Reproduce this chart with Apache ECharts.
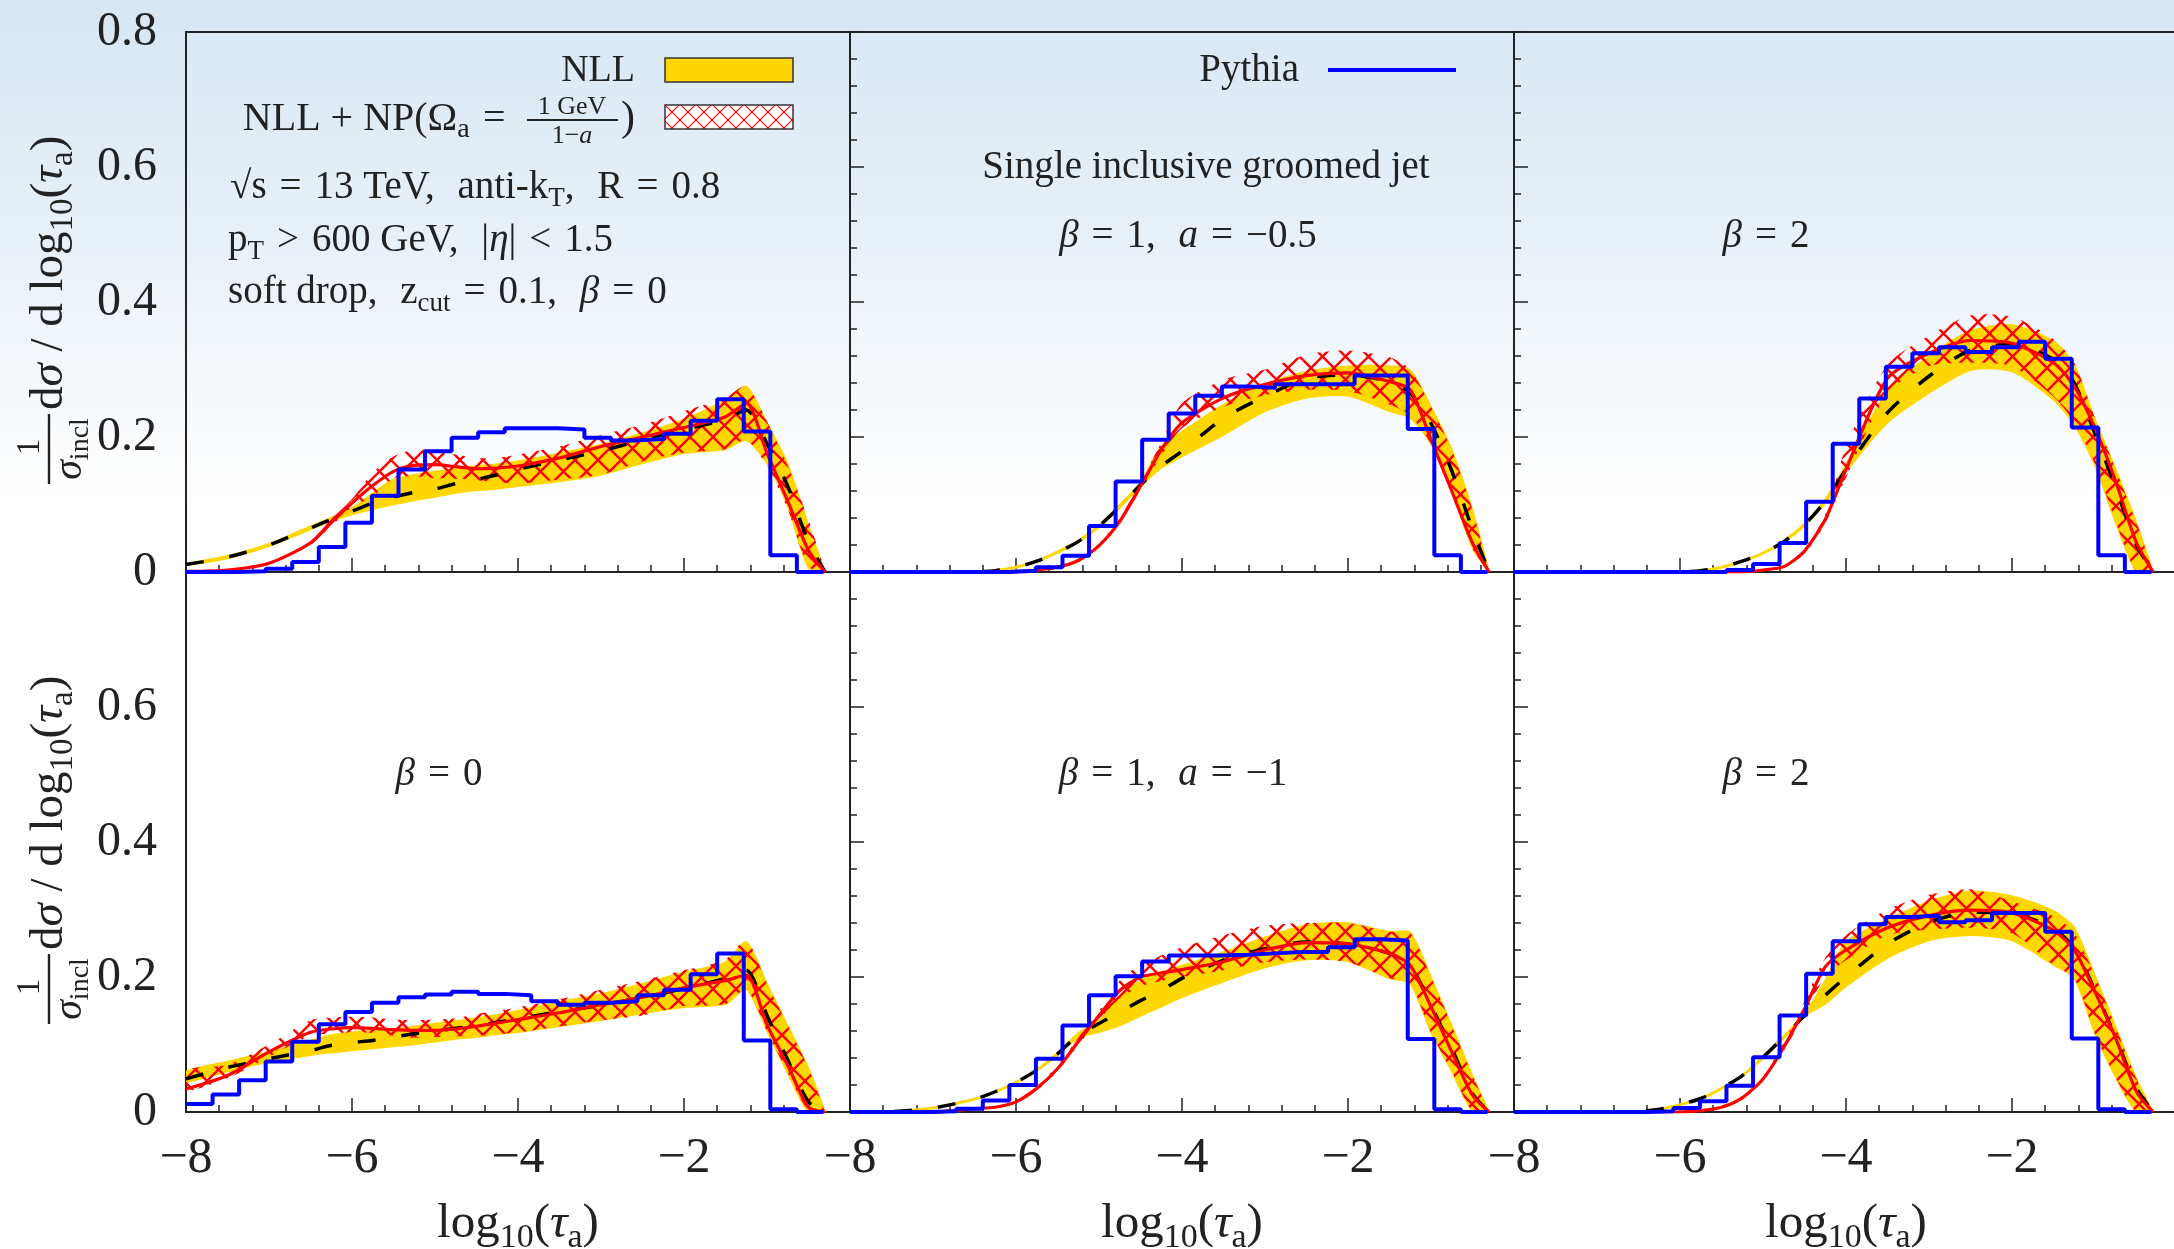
<!DOCTYPE html>
<html>
<head>
<meta charset="utf-8">
<script src="https://cdn.jsdelivr.net/npm/echarts@6/dist/echarts.min.js"></script>
<style>
  html, body { margin: 0; padding: 0; background: #fff; }
  #chart { width: 2174px; height: 1249px; }
</style>
</head>
<body>
<div id="chart"></div>
<script>
// ---------------------------------------------------------------------------
// Sample points in log10(tau_a) for the resummed curves
// ---------------------------------------------------------------------------
const X = [-8, -7.5, -7, -6.5, -6.25, -6, -5.75, -5.5, -5.25, -5, -4.75, -4.5,
           -4.25, -4, -3.5, -3, -2.5, -2, -1.5, -1.25, -1, -0.75, -0.5, -0.3];

// Pythia histogram bin edges
const BIN_EDGES = [-8, -7.68, -7.36, -7.04, -6.72, -6.4, -6.08, -5.76, -5.44, -5.12,
                   -4.8, -4.48, -4.16, -3.84, -3.52, -3.2, -2.88, -2.56, -2.24, -1.92,
                   -1.6, -1.28, -0.96, -0.64, -0.32];

// Axis tick labels
const X_TICKS = [-8, -6, -4, -2, 0];
const Y_TICKS = [0, 0.2, 0.4, 0.6, 0.8];

// ---- top row, beta = 0 ----------------------------------------------------
const T0_NLL_LO = [0.010, 0.020, 0.038, 0.063, 0.075, 0.085, 0.093, 0.100, 0.106, 0.111, 0.117, 0.121, 0.123, 0.127, 0.134, 0.144, 0.161, 0.176, 0.182, 0.195, 0.161, 0.097, 0.006, 0];
const T0_NLL_HI = [0.012, 0.024, 0.042, 0.068, 0.081, 0.095, 0.117, 0.137, 0.144, 0.149, 0.153, 0.157, 0.160, 0.164, 0.176, 0.189, 0.206, 0.226, 0.255, 0.275, 0.221, 0.160, 0.069, 0];
const T0_NLL    = [0.011, 0.022, 0.040, 0.065, 0.078, 0.090, 0.102, 0.111, 0.118, 0.123, 0.131, 0.137, 0.144, 0.152, 0.166, 0.179, 0.196, 0.211, 0.226, 0.240, 0.190, 0.127, 0.044, 0];
const T0_NP_LO  = [0.000, 0.002, 0.011, 0.040, 0.068, 0.096, 0.112, 0.139, 0.142, 0.139, 0.138, 0.136, 0.133, 0.131, 0.137, 0.144, 0.164, 0.177, 0.182, 0.196, 0.157, 0.093, 0.008, 0];
const T0_NP_HI  = [0.002, 0.004, 0.015, 0.046, 0.078, 0.108, 0.147, 0.171, 0.181, 0.180, 0.174, 0.169, 0.169, 0.174, 0.186, 0.203, 0.218, 0.238, 0.258, 0.276, 0.223, 0.157, 0.078, 0];
const T0_NP     = [0.001, 0.003, 0.013, 0.043, 0.073, 0.102, 0.128, 0.149, 0.158, 0.159, 0.156, 0.153, 0.154, 0.157, 0.169, 0.186, 0.200, 0.214, 0.230, 0.250, 0.176, 0.105, 0.032, 0];
const T0_PYTHIA = [0, 0, 0.001, 0.005, 0.015, 0.037, 0.073, 0.113, 0.152, 0.179, 0.199, 0.207, 0.213, 0.213, 0.211, 0.199, 0.195, 0.197, 0.205, 0.224, 0.256, 0.208, 0.025, 0];

// ---- top row, beta = 1, a = -0.5 -----------------------------------------
const T1_NLL_LO = [0, 0, 0, 0, 0.001, 0.006, 0.015, 0.028, 0.044, 0.066, 0.095, 0.127, 0.154, 0.171, 0.203, 0.238, 0.258, 0.261, 0.238, 0.228, 0.190, 0.120, 0.035, 0];
const T1_NLL_HI = [0, 0, 0.0005, 0.001, 0.003, 0.008, 0.017, 0.031, 0.047, 0.070, 0.100, 0.133, 0.186, 0.208, 0.248, 0.278, 0.297, 0.305, 0.305, 0.299, 0.245, 0.181, 0.092, 0];
const T1_NLL    = [0, 0, 0, 0.0005, 0.002, 0.007, 0.016, 0.029, 0.045, 0.068, 0.097, 0.129, 0.157, 0.179, 0.228, 0.260, 0.287, 0.292, 0.282, 0.265, 0.220, 0.150, 0.063, 0];
const T1_NP_LO  = [0, 0, 0, 0, 0, 0, 0.002, 0.006, 0.015, 0.036, 0.071, 0.122, 0.172, 0.213, 0.245, 0.262, 0.270, 0.268, 0.248, 0.232, 0.190, 0.120, 0.035, 0];
const T1_NP_HI  = [0, 0, 0, 0, 0, 0.001, 0.004, 0.009, 0.019, 0.042, 0.080, 0.133, 0.192, 0.250, 0.285, 0.300, 0.322, 0.328, 0.318, 0.300, 0.245, 0.181, 0.092, 0];
const T1_NP     = [0, 0, 0, 0, 0, 0.0005, 0.003, 0.007, 0.017, 0.039, 0.075, 0.127, 0.181, 0.221, 0.258, 0.278, 0.291, 0.295, 0.282, 0.270, 0.196, 0.120, 0.043, 0];
const T1_PYTHIA = [0, 0, 0, 0, 0, 0, 0.002, 0.007, 0.024, 0.068, 0.134, 0.196, 0.235, 0.261, 0.275, 0.273, 0.278, 0.278, 0.278, 0.291, 0.291, 0.212, 0.025, 0];

// ---- top row, beta = 2 ----------------------------------------------------
const T2_NLL_LO = [0, 0, 0, 0, 0, 0, 0.0015, 0.006, 0.015, 0.027, 0.044, 0.068, 0.102, 0.148, 0.221, 0.265, 0.299, 0.297, 0.255, 0.218, 0.157, 0.073, 0, 0];
const T2_NLL_HI = [0, 0, 0, 0, 0, 0, 0.0025, 0.008, 0.017, 0.029, 0.047, 0.072, 0.108, 0.160, 0.268, 0.320, 0.357, 0.366, 0.342, 0.307, 0.226, 0.152, 0.073, 0];
const T2_NLL    = [0, 0, 0, 0, 0, 0, 0.002, 0.007, 0.016, 0.028, 0.045, 0.070, 0.105, 0.152, 0.236, 0.290, 0.329, 0.337, 0.315, 0.280, 0.205, 0.125, 0.040, 0];
const T2_NP_LO  = [0, 0, 0, 0, 0, 0, 0, 0, 0, 0.002, 0.006, 0.027, 0.072, 0.140, 0.265, 0.305, 0.310, 0.305, 0.260, 0.222, 0.160, 0.075, 0, 0];
const T2_NP_HI  = [0, 0, 0, 0, 0, 0, 0, 0, 0.001, 0.004, 0.010, 0.035, 0.085, 0.185, 0.307, 0.350, 0.380, 0.378, 0.345, 0.310, 0.228, 0.152, 0.073, 0];
const T2_NP     = [0, 0, 0, 0, 0, 0, 0, 0, 0, 0.003, 0.008, 0.031, 0.078, 0.152, 0.287, 0.324, 0.343, 0.339, 0.310, 0.275, 0.213, 0.134, 0.043, 0];
const T2_PYTHIA = [0, 0, 0, 0, 0, 0, 0, 0, 0.003, 0.012, 0.043, 0.104, 0.190, 0.257, 0.304, 0.324, 0.333, 0.326, 0.333, 0.341, 0.316, 0.214, 0.025, 0];

// ---- bottom row, beta = 0 -------------------------------------------------
const B0_NLL_LO = [0.045, 0.060, 0.074, 0.084, 0.088, 0.091, 0.094, 0.097, 0.100, 0.104, 0.108, 0.111, 0.115, 0.118, 0.127, 0.136, 0.146, 0.155, 0.160, 0.182, 0.120, 0.057, 0, 0];
const B0_NLL_HI = [0.060, 0.075, 0.089, 0.106, 0.114, 0.118, 0.121, 0.123, 0.127, 0.131, 0.135, 0.139, 0.144, 0.150, 0.163, 0.175, 0.190, 0.207, 0.222, 0.252, 0.190, 0.128, 0.065, 0];
const B0_NLL    = [0.049, 0.066, 0.079, 0.091, 0.099, 0.103, 0.106, 0.111, 0.116, 0.120, 0.124, 0.128, 0.133, 0.138, 0.149, 0.158, 0.170, 0.183, 0.198, 0.210, 0.143, 0.077, 0.015, 0];
const B0_NP_LO  = [0.032, 0.050, 0.082, 0.113, 0.116, 0.118, 0.117, 0.113, 0.110, 0.111, 0.112, 0.113, 0.115, 0.118, 0.127, 0.136, 0.143, 0.157, 0.160, 0.182, 0.120, 0.058, 0.002, 0];
const B0_NP_HI  = [0.062, 0.070, 0.100, 0.136, 0.140, 0.141, 0.140, 0.137, 0.136, 0.137, 0.139, 0.145, 0.150, 0.155, 0.167, 0.181, 0.195, 0.210, 0.226, 0.255, 0.190, 0.128, 0.065, 0];
const B0_NP     = [0.034, 0.054, 0.089, 0.118, 0.123, 0.125, 0.124, 0.122, 0.121, 0.121, 0.123, 0.127, 0.132, 0.137, 0.147, 0.159, 0.170, 0.184, 0.195, 0.203, 0.129, 0.069, 0.007, 0];
const B0_PYTHIA = [0.012, 0.026, 0.047, 0.075, 0.104, 0.130, 0.148, 0.162, 0.170, 0.174, 0.178, 0.175, 0.173, 0.164, 0.159, 0.162, 0.164, 0.173, 0.181, 0.204, 0.235, 0.106, 0.004, 0];

// ---- bottom row, beta = 1, a = -1 -----------------------------------------
const B1_NLL_LO = [0, 0, 0.005, 0.018, 0.029, 0.043, 0.061, 0.084, 0.110, 0.118, 0.128, 0.142, 0.156, 0.170, 0.193, 0.214, 0.226, 0.223, 0.198, 0.190, 0.118, 0.060, 0.001, 0];
const B1_NLL_HI = [0, 0.001, 0.007, 0.020, 0.031, 0.045, 0.063, 0.088, 0.117, 0.135, 0.170, 0.195, 0.207, 0.217, 0.237, 0.259, 0.277, 0.280, 0.267, 0.266, 0.200, 0.128, 0.054, 0];
const B1_NLL    = [0, 0.0005, 0.006, 0.019, 0.030, 0.044, 0.062, 0.086, 0.114, 0.131, 0.148, 0.165, 0.180, 0.198, 0.225, 0.242, 0.252, 0.249, 0.235, 0.217, 0.158, 0.094, 0.027, 0];
const B1_NP_LO  = [0, 0, 0, 0.004, 0.006, 0.013, 0.032, 0.060, 0.099, 0.136, 0.168, 0.186, 0.194, 0.200, 0.210, 0.222, 0.226, 0.222, 0.198, 0.190, 0.118, 0.060, 0.001, 0];
const B1_NP_HI  = [0, 0, 0, 0.006, 0.009, 0.017, 0.038, 0.069, 0.110, 0.150, 0.195, 0.218, 0.232, 0.244, 0.262, 0.276, 0.280, 0.280, 0.267, 0.266, 0.200, 0.128, 0.054, 0];
const B1_NP     = [0, 0, 0, 0.005, 0.007, 0.015, 0.035, 0.064, 0.104, 0.143, 0.180, 0.200, 0.206, 0.211, 0.223, 0.240, 0.251, 0.249, 0.235, 0.217, 0.156, 0.089, 0.025, 0];
const B1_PYTHIA = [0, 0, 0, 0.001, 0.005, 0.017, 0.040, 0.079, 0.128, 0.173, 0.201, 0.223, 0.232, 0.232, 0.233, 0.235, 0.237, 0.237, 0.244, 0.256, 0.254, 0.108, 0.004, 0];

// ---- bottom row, beta = 2 -------------------------------------------------
const B2_NLL_LO = [0, 0, 0, 0, 0.003, 0.010, 0.019, 0.034, 0.053, 0.079, 0.109, 0.142, 0.160, 0.186, 0.228, 0.254, 0.262, 0.254, 0.218, 0.198, 0.116, 0.051, 0, 0];
const B2_NLL_HI = [0, 0, 0, 0.001, 0.005, 0.012, 0.021, 0.036, 0.055, 0.083, 0.113, 0.146, 0.195, 0.252, 0.285, 0.312, 0.327, 0.320, 0.298, 0.273, 0.202, 0.126, 0.049, 0];
const B2_NLL    = [0, 0, 0, 0.001, 0.004, 0.011, 0.020, 0.035, 0.054, 0.081, 0.111, 0.143, 0.173, 0.200, 0.249, 0.281, 0.296, 0.294, 0.272, 0.242, 0.180, 0.110, 0.035, 0];
const B2_NP_LO  = [0, 0, 0, 0, 0, 0, 0.001, 0.006, 0.019, 0.046, 0.091, 0.145, 0.200, 0.225, 0.262, 0.270, 0.273, 0.265, 0.218, 0.198, 0.116, 0.051, 0, 0];
const B2_NP_HI  = [0, 0, 0, 0, 0, 0, 0.003, 0.009, 0.024, 0.053, 0.103, 0.165, 0.228, 0.262, 0.300, 0.322, 0.330, 0.312, 0.290, 0.265, 0.202, 0.126, 0.049, 0];
const B2_NP     = [0, 0, 0, 0, 0, 0, 0.002, 0.007, 0.021, 0.049, 0.096, 0.153, 0.215, 0.240, 0.273, 0.291, 0.299, 0.295, 0.269, 0.240, 0.178, 0.109, 0.030, 0];
const B2_PYTHIA = [0, 0, 0, 0, 0, 0.001, 0.006, 0.016, 0.039, 0.081, 0.143, 0.205, 0.253, 0.278, 0.289, 0.291, 0.281, 0.284, 0.295, 0.295, 0.267, 0.109, 0.004, 0];

// Panel list (row, column) -> curves
const PANELS = [
  { row: 0, col: 0, nllLo: T0_NLL_LO, nllHi: T0_NLL_HI, nll: T0_NLL, npLo: T0_NP_LO, npHi: T0_NP_HI, np: T0_NP, pythia: T0_PYTHIA },
  { row: 0, col: 1, nllLo: T1_NLL_LO, nllHi: T1_NLL_HI, nll: T1_NLL, npLo: T1_NP_LO, npHi: T1_NP_HI, np: T1_NP, pythia: T1_PYTHIA },
  { row: 0, col: 2, nllLo: T2_NLL_LO, nllHi: T2_NLL_HI, nll: T2_NLL, npLo: T2_NP_LO, npHi: T2_NP_HI, np: T2_NP, pythia: T2_PYTHIA },
  { row: 1, col: 0, nllLo: B0_NLL_LO, nllHi: B0_NLL_HI, nll: B0_NLL, npLo: B0_NP_LO, npHi: B0_NP_HI, np: B0_NP, pythia: B0_PYTHIA },
  { row: 1, col: 1, nllLo: B1_NLL_LO, nllHi: B1_NLL_HI, nll: B1_NLL, npLo: B1_NP_LO, npHi: B1_NP_HI, np: B1_NP, pythia: B1_PYTHIA },
  { row: 1, col: 2, nllLo: B2_NLL_LO, nllHi: B2_NLL_HI, nll: B2_NLL, npLo: B2_NP_LO, npHi: B2_NP_HI, np: B2_NP, pythia: B2_PYTHIA }
];

// ---------------------------------------------------------------------------
// Layout and style
// ---------------------------------------------------------------------------
const FONT = 'Liberation Serif';
const INK = '#222';
const AXIS = '#222';
const YELLOW = '#ffd700';
const RED = '#ff0000';
const BLUE = '#0000ff';
const COL_LEFT = [186, 850, 1514];
const ROW_TOP = [32, 572];
const PANEL_W = 664;
const PANEL_H = 540;
const SMOOTH = 0.25;
const SP = '\u2004';   // three-per-em space used around relations

function hatchTile(size, width, color) {
  const c = document.createElement('canvas');
  c.width = size; c.height = size;
  const g = c.getContext('2d');
  g.strokeStyle = color;
  g.lineWidth = width;
  g.beginPath();
  g.moveTo(-2, -2); g.lineTo(size + 2, size + 2);
  g.moveTo(size + 2, -2); g.lineTo(-2, size + 2);
  g.stroke();
  return c;
}
const HATCH = { image: hatchTile(23, 2.4, RED), repeat: 'repeat' };
const HATCH_KEY = { image: hatchTile(16, 1.2, RED), repeat: 'repeat' };

// rich-text styles: n = upright, i = italic, s = subscript
function richSet(size) {
  const base = { fontFamily: FONT, fill: INK, color: INK };
  return {
    n: Object.assign({ fontSize: size, lineHeight: Math.round(size * 1.25) }, base),
    i: Object.assign({ fontSize: size, fontStyle: 'italic', lineHeight: Math.round(size * 1.25) }, base),
    s: Object.assign({ fontSize: Math.round(size * 0.7), lineHeight: Math.round(size * 0.5), verticalAlign: 'bottom' }, base)
  };
}

const fmtX = v => (v < 0 ? '\u2212' + Math.abs(v) : String(v));
const fmtY = v => (v === 0 ? '0' : v.toFixed(1));

// A shaded band between two curves, drawn as one closed polygon in data coordinates
function bandSeries(i, lo, hi, fill, stroke) {
  const rows = X.map((x, k) => [x, lo[k], hi[k]]);
  return {
    type: 'custom', xAxisIndex: i, yAxisIndex: i, silent: true, animation: false, clip: true,
    data: rows,
    encode: { x: 0, y: [1, 2] },
    renderItem: function (params, api) {
      if (params.dataIndex !== 0) return null;
      const upper = rows.map(r => api.coord([r[0], r[2]]));
      const lower = rows.map(r => api.coord([r[0], r[1]])).reverse();
      return {
        type: 'polygon',
        shape: { points: upper.concat(lower), smooth: 0.25 },
        style: { fill: fill, stroke: stroke || null, lineWidth: stroke ? 1.5 : 0 }
      };
    }
  };
}

const grids = [], xAxes = [], yAxes = [], series = [];
const pair = arr => X.map((x, k) => [x, arr[k]]);

PANELS.forEach((p, i) => {
  grids.push({
    left: COL_LEFT[p.col], top: ROW_TOP[p.row], width: PANEL_W, height: PANEL_H,
    show: true, borderColor: AXIS, borderWidth: 2, backgroundColor: 'transparent',
    containLabel: false, outerBoundsMode: 'none'
  });
  const bottomRow = p.row === 1;
  xAxes.push({
    type: 'value', gridIndex: i, min: X_TICKS[0], max: X_TICKS[X_TICKS.length - 1], interval: 2,
    axisLine: { show: true, onZero: false, lineStyle: { color: AXIS, width: 2 } },
    axisTick: { show: true, inside: true, length: 14, lineStyle: { color: AXIS, width: 1.5 } },
    minorTick: { show: true, splitNumber: 5, length: 7, lineStyle: { color: AXIS, width: 1.5 } },
    splitLine: { show: false }, minorSplitLine: { show: false },
    axisLabel: {
      show: bottomRow, showMinLabel: true, showMaxLabel: false, margin: 22,
      fontSize: 50, fontFamily: FONT, color: INK, formatter: fmtX
    },
    name: bottomRow ? '{n|log}{s|10}{n|(}{i|\u03c4}{s|a}{n|)}' : '',
    nameLocation: 'middle', nameGap: 82,
    nameTextStyle: { rich: richSet(49) }
  });
  yAxes.push({
    type: 'value', gridIndex: i, min: Y_TICKS[0], max: Y_TICKS[Y_TICKS.length - 1], interval: 0.2,
    axisLine: { show: true, lineStyle: { color: AXIS, width: 2 } },
    axisTick: { show: true, inside: true, length: 14, lineStyle: { color: AXIS, width: 1.5 } },
    minorTick: { show: true, splitNumber: 5, length: 7, lineStyle: { color: AXIS, width: 1.5 } },
    splitLine: { show: false }, minorSplitLine: { show: false },
    axisLabel: {
      show: p.col === 0, showMinLabel: true, showMaxLabel: p.row === 0, margin: 29,
      fontSize: 48, fontFamily: FONT, color: INK, formatter: fmtY
    }
  });

  const common = { xAxisIndex: i, yAxisIndex: i, symbol: 'none', showSymbol: false, silent: true, animation: false };
  // NLL band (solid yellow) and NLL + NP band (red cross-hatch)
  series.push(bandSeries(i, p.nllLo, p.nllHi, YELLOW, YELLOW));
  series.push(bandSeries(i, p.npLo, p.npHi, HATCH, null));
  // central curves
  series.push(Object.assign({ type: 'line', name: 'NLL', smooth: SMOOTH, data: pair(p.nll),
    lineStyle: { color: '#000', width: 3.5, type: [18, 26] } }, common));
  series.push(Object.assign({ type: 'line', name: 'NLL + NP', smooth: SMOOTH, data: pair(p.np),
    lineStyle: { color: RED, width: 3.2 } }, common));
  // Pythia histogram
  const hist = p.pythia.map((v, k) => [BIN_EDGES[k], v]);
  hist.push([BIN_EDGES[BIN_EDGES.length - 1], p.pythia[p.pythia.length - 1]]);
  series.push(Object.assign({ type: 'line', name: 'Pythia', step: 'end', data: hist,
    lineStyle: { color: BLUE, width: 4 } }, common));
});

// ---------------------------------------------------------------------------
// Text annotations, keys and the y-axis title
// ---------------------------------------------------------------------------
function label(x, y, text, align, size) {
  return {
    type: 'text', x: x, y: y, silent: true,
    style: { text: text, rich: richSet(size), align: align || 'left', verticalAlign: 'middle',
             fontFamily: FONT, fontSize: size, fill: INK }
  };
}
const rel = s => SP + s + SP;

function yTitle(bottom) {
  return {
    type: 'group', x: 0, y: bottom, rotation: Math.PI / 2, silent: true,
    children: [
      { type: 'text', x: 37, y: 30, style: { text: '1', fontSize: 33, fontFamily: FONT, fill: INK, align: 'center', verticalAlign: 'middle' } },
      { type: 'line', shape: { x1: 0, y1: 49, x2: 70, y2: 49 }, style: { stroke: INK, lineWidth: 2.4 } },
      { type: 'text', x: 35, y: 70, style: { text: '{i|\u03c3}{s|incl}', rich: richSet(40), align: 'center', verticalAlign: 'middle' } },
      { type: 'text', x: 74, y: 50, style: { text: '{n|d}{i|\u03c3}{n| / d log}{s|10}{n|(}{i|\u03c4}{s|a}{n|)}', rich: richSet(47), align: 'left', verticalAlign: 'middle' } }
    ]
  };
}

const graphics = [
  // key: NLL
  label(635, 71, '{n|NLL}', 'right', 38),
  { type: 'rect', shape: { x: 665, y: 58, width: 128, height: 24 }, style: { fill: YELLOW, stroke: '#333', lineWidth: 1.5 } },
  // key: NLL + NP
  label(519, 119, '{n|NLL + NP(\u03a9}{s|a}{n|' + rel('=') + '}', 'right', 40),
  { type: 'text', x: 572, y: 107, style: { text: '1 GeV', fontSize: 26, fontFamily: FONT, fill: INK, align: 'center', verticalAlign: 'middle' } },
  { type: 'line', shape: { x1: 527, y1: 120, x2: 618, y2: 120 }, style: { stroke: INK, lineWidth: 2 } },
  { type: 'text', x: 572, y: 136, style: { text: '{n|1\u2212}{i|a}', rich: richSet(26), align: 'center', verticalAlign: 'middle' } },
  label(621, 119, '{n|)}', 'left', 42),
  { type: 'rect', shape: { x: 665, y: 105, width: 128, height: 24 }, style: { fill: '#fff' } },
  { type: 'rect', shape: { x: 665, y: 105, width: 128, height: 24 }, style: { fill: HATCH_KEY, stroke: '#333', lineWidth: 1.5 } },
  // selection text
  label(230, 188, '{n|\u221as' + rel('=') + '13 TeV, ' + SP + 'anti-k}{s|T}{n|, ' + SP + 'R' + rel('=') + '0.8}', 'left', 39),
  label(228, 241, '{n|p}{s|T}{n|' + rel('>') + '600 GeV, ' + SP + '|}{i|\u03b7}{n||' + rel('<') + '1.5}', 'left', 39),
  label(228, 293, '{n|soft drop, ' + SP + 'z}{s|cut}{n|' + rel('=') + '0.1, ' + SP + '}{i|\u03b2}{n|' + rel('=') + '0}', 'left', 39),
  // key: Pythia
  label(1299, 71, '{n|Pythia}', 'right', 39),
  { type: 'line', shape: { x1: 1328, y1: 70, x2: 1456, y2: 70 }, style: { stroke: BLUE, lineWidth: 4 } },
  // panel captions
  label(1206, 168, '{n|Single inclusive groomed jet}', 'center', 39),
  label(1188, 237, '{i|\u03b2}{n|' + rel('=') + '1, ' + SP + '}{i|a}{n|' + rel('=') + '\u22120.5}', 'center', 39),
  label(1766, 237, '{i|\u03b2}{n|' + rel('=') + '2}', 'center', 39),
  label(439, 775, '{i|\u03b2}{n|' + rel('=') + '0}', 'center', 39),
  label(1173, 775, '{i|\u03b2}{n|' + rel('=') + '1, ' + SP + '}{i|a}{n|' + rel('=') + '\u22121}', 'center', 39),
  label(1766, 775, '{i|\u03b2}{n|' + rel('=') + '2}', 'center', 39),
  // y-axis titles
  yTitle(484),
  yTitle(1024)
];

const chart = echarts.init(document.getElementById('chart'), null, { renderer: 'canvas', width: 2174, height: 1249 });
chart.setOption({
  animation: false,
  backgroundColor: {
    type: 'linear', x: 0, y: 0, x2: 0, y2: 1,
    colorStops: [
      { offset: 0, color: '#d8e6f2' },
      { offset: 0.2, color: '#e9f1f8' },
      { offset: 0.4, color: '#ffffff' },
      { offset: 1, color: '#ffffff' }
    ]
  },
  textStyle: { fontFamily: FONT },
  grid: grids,
  xAxis: xAxes,
  yAxis: yAxes,
  series: series,
  graphic: graphics
});
</script>
</body>
</html>
